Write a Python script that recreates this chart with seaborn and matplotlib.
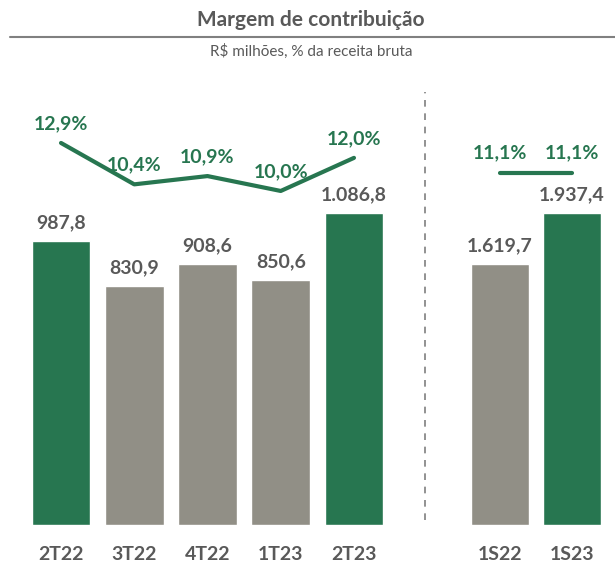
import numpy as np
import pandas as pd
import matplotlib.pyplot as plt
import seaborn as sns
from matplotlib.lines import Line2D

sns.set_theme(style="white")
plt.rcParams['font.family'] = ['Lato', 'DejaVu Sans']

# quarterly data
quarters = ['2T22', '3T22', '4T22', '1T23', '2T23']
q_values = [987.8, 830.9, 908.6, 850.6, 1086.8]
q_labels = ['987,8', '830,9', '908,6', '850,6', '1.086,8']
q_margin = [12.9, 10.4, 10.9, 10.0, 12.0]
q_margin_labels = ['12,9%', '10,4%', '10,9%', '10,0%', '12,0%']

# semester data
semesters = ['1S22', '1S23']
s_values = [1619.7, 1937.4]
s_labels = ['1.619,7', '1.937,4']
s_margin = [11.1, 11.1]
s_margin_labels = ['11,1%', '11,1%']

GREEN = '#277650'
GRAY = '#918F86'
TEXT = '#595959'

W, H = 615, 565
fig = plt.figure(figsize=(W / 100, H / 100), dpi=100)


def px_axes(x0, x1, y_top, y_bot):
    return fig.add_axes([x0 / W, 1 - y_bot / H, (x1 - x0) / W, (y_bot - y_top) / H])


def draw_group(ax, cats, vals, labels, margin, mlabels, colors, ymax):
    df = pd.DataFrame({'cat': cats, 'val': vals})
    sns.barplot(data=df, x='cat', y='val', hue='cat', palette=colors,
                legend=False, width=0.8, ax=ax, saturation=1)
    ax.set_ylim(0, ymax)
    ax.set_xlim(-0.5, len(cats) - 0.5)
    for i, (v, lab) in enumerate(zip(vals, labels)):
        ax.annotate(lab, (i, v), xytext=(0, 7), textcoords='offset points',
                    ha='center', va='bottom', fontsize=14, fontweight='bold', color=TEXT)
    ax.set_xlabel('')
    ax.set_ylabel('')
    ax.set_yticks([])
    ax.tick_params(axis='x', length=0, pad=15)
    for t in ax.get_xticklabels():
        t.set_fontsize(14)
        t.set_fontweight('bold')
        t.set_color(TEXT)
    for s in ax.spines.values():
        s.set_visible(False)

    ax2 = ax.twinx()
    sns.lineplot(x=np.arange(len(cats)), y=margin, color=GREEN, linewidth=3, ax=ax2)
    ax2.set_ylim(-10.18, 16.1)
    for i, (m, lab) in enumerate(zip(margin, mlabels)):
        ax2.annotate(lab, (i, m), xytext=(0, 8), textcoords='offset points',
                     ha='center', va='bottom', fontsize=14, fontweight='bold', color=GREEN)
    ax2.set_yticks([])
    ax2.set_ylabel('')
    for s in ax2.spines.values():
        s.set_visible(False)
    ax2.patch.set_visible(False)


ax_q = px_axes(24.4, 390.6, 90, 525)
draw_group(ax_q, quarters, q_values, q_labels, q_margin, q_margin_labels,
           [GREEN, GRAY, GRAY, GRAY, GREEN], 1513)

ax_s = px_axes(464, 608, 90, 525)
draw_group(ax_s, semesters, s_values, s_labels, s_margin, s_margin_labels,
           [GRAY, GREEN], 2702)

# separator and header decorations
fig.add_artist(Line2D([425 / W, 425 / W], [1 - 520 / H, 1 - 92 / H], color='#7F7F7F',
                      linewidth=1.2, linestyle=(0, (4, 4))))
fig.add_artist(Line2D([10 / W, 1], [1 - 37 / H, 1 - 37 / H], color='#808080', linewidth=1.5))

fig.text(311 / W, 1 - 20 / H, 'Margem de contribuição', ha='center', va='center',
         fontsize=15, fontweight='bold', color=TEXT)
fig.text(311 / W, 1 - 51 / H, 'R$ milhões, % da receita bruta', ha='center', va='center',
         fontsize=11, color=TEXT)

fig.savefig('out.png', dpi=100)
